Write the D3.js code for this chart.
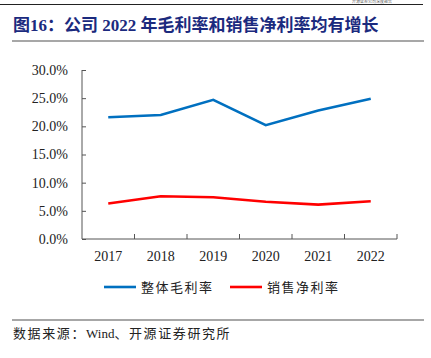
<!DOCTYPE html>
<html><head><meta charset="utf-8">
<script src="https://cdn.jsdelivr.net/npm/d3@7"></script>
<style>body{margin:0;background:#fff}svg{display:block}</style>
</head><body>
<script>
const years = ["2017","2018","2019","2020","2021","2022"];
const grossMargin = [21.6, 22.0, 24.7, 20.2, 22.8, 24.9];
const netMargin = [6.3, 7.6, 7.4, 6.6, 6.1, 6.7];
const yTicks = [0,5,10,15,20,25,30];
const seriesNames = ["整体毛利率","销售净利率"];
const colors = ["#0070c0","#ff0000"];

const W=431,H=358;
const svg=d3.select("body").append("svg").attr("width",W).attr("height",H);
const serif="'Liberation Serif','Times New Roman','Noto Sans CJK SC',serif";
const cjk="'Liberation Serif','Noto Sans CJK SC',sans-serif";

// header
svg.append("text").attr("x",352).attr("y",3).attr("font-size",4).attr("font-family",cjk).attr("fill","#555").text("开源证券公司深度报告");
svg.append("line").attr("x1",0).attr("x2",423).attr("y1",4.5).attr("y2",4.5).attr("stroke","#222").attr("stroke-width",1.2);
svg.append("text").attr("x",13).attr("y",31).attr("font-size",17).attr("font-weight","bold").attr("font-family",cjk).attr("fill","#1b2a7e").text("图16：公司 2022 年毛利率和销售净利率均有增长");
svg.append("line").attr("x1",12).attr("x2",424).attr("y1",41).attr("y2",41).attr("stroke","#8a8a8a").attr("stroke-width",1.5);

const x=d3.scaleBand().domain(years).range([82,397]);
const y=d3.scaleLinear().domain([0,30]).range([239,70]);

const yAxis=svg.append("g").attr("transform","translate(82,0)")
  .call(d3.axisLeft(y).tickValues(yTicks).tickSize(-4).tickPadding(14).tickFormat(d=>d3.format(".1f")(d)+"%"));
const xAxis=svg.append("g").attr("transform","translate(0,239)")
  .call(d3.axisBottom(x).tickSize(0).tickPadding(12));
svg.append("g").selectAll("line").data(years).join("line")
  .attr("x1",d=>x(d)+x.bandwidth()).attr("x2",d=>x(d)+x.bandwidth())
  .attr("y1",239).attr("y2",234).attr("stroke","#555");
[yAxis,xAxis].forEach(g=>{
  g.select(".domain").attr("stroke","#555");
  g.selectAll(".tick line").attr("stroke","#555");
  g.selectAll("text").attr("font-family",serif).attr("font-size",14).attr("fill","#222");
});
yAxis.select(".domain").attr("d","M0,70V239");
xAxis.select(".domain").attr("d","M82,0H397");

const line=d3.line().x((d,i)=>x(years[i])+x.bandwidth()/2).y(d=>y(d));
[grossMargin,netMargin].forEach((s,k)=>{
  svg.append("path").datum(s).attr("d",line).attr("fill","none").attr("stroke",colors[k]).attr("stroke-width",2.6);
});

const lx=[104,230];
seriesNames.forEach((n,k)=>{
  svg.append("line").attr("x1",lx[k]).attr("x2",lx[k]+32).attr("y1",287).attr("y2",287).attr("stroke",colors[k]).attr("stroke-width",2.6);
  svg.append("text").attr("x",lx[k]+37).attr("y",292).attr("font-size",13).attr("font-family",cjk).attr("fill","#222").attr("letter-spacing",1.5).text(n);
});

svg.append("line").attr("x1",12).attr("x2",424).attr("y1",320).attr("y2",320).attr("stroke","#8a8a8a").attr("stroke-width",1.5);
const src=svg.append("text").attr("x",13).attr("y",338).attr("font-size",13).attr("font-family",cjk).attr("fill","#222");
src.append("tspan").attr("letter-spacing",1.6).text("数据来源：");
src.append("tspan").text("Wind");
src.append("tspan").attr("letter-spacing",1.6).text("、开源证券研究所");
</script>
</body></html>
